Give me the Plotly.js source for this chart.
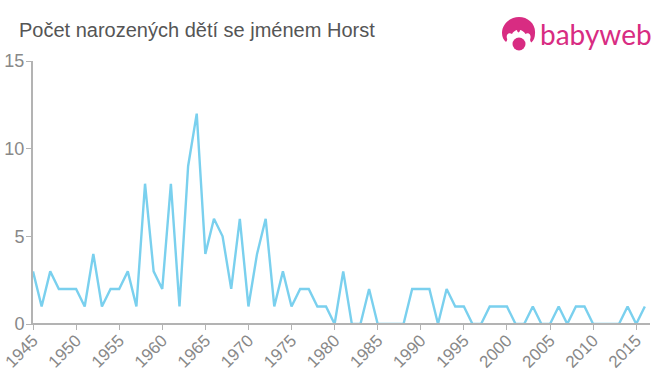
<!DOCTYPE html>
<html><head><meta charset="utf-8">
<script src="https://cdn.plot.ly/plotly-3.0.1.min.js"></script>
<style>html,body{margin:0;padding:0;background:#fff}#c{width:660px;height:375px}</style></head>
<body><div id="c"></div>
<script>
const years = [];
for (let y = 1945; y <= 2016; y++) years.push(y);
const births = [3,1,3,2,2,2,1,4,1,2,2,3,1,8,3,2,8,1,9,12,4,6,5,2,6,1,4,6,1,3,1,2,2,1,1,0,3,0,0,2,0,0,0,0,2,2,2,0,2,1,1,0,0,1,1,1,0,0,1,0,0,1,0,1,1,0,0,0,0,1,0,1];
const xTicks = [1945,1950,1955,1960,1965,1970,1975,1980,1985,1990,1995,2000,2005,2010,2015];
const yTicks = [0,5,10,15];
const titleText = 'Počet narozených dětí se jménem Horst';
const brandText = 'babyweb';
const lineColor = '#7ad0ee', axisColor = '#b3b3b3', tickColor = '#888888', brandColor = '#d82c82';

const logo = 'data:image/svg+xml;utf8,' + encodeURIComponent(
 '<svg xmlns="http://www.w3.org/2000/svg" width="34" height="34" viewBox="0 0 34 34">' +
 '<path fill="'+brandColor+'" d="M17 0C8 0 0 7 0 16c0 4 1.500 7 4 9 1-1 1.500-2 1-3.500-.5-1.500-.5-4 1.500-5 1.500-.7 2.500-.2 3.500.5 1-2 3-3.500 5-4 0 1 .5 2 1.500 2.500 1-.5 1.500-1.500 1.500-2.500 2.500.5 4 2 5.500 4 1-.7 2.500-1 3.500-.2 1.800 1 1.800 3.500 1.300 5-.5 1.500 0 2.700 1 3.700 2.500-2 3.700-5 3.700-9C34 7 26 0 17 0z"/>' +
 '<circle fill="'+brandColor+'" cx="17" cy="27" r="6.500"/></svg>');

Plotly.newPlot('c', [{
  x: years, y: births, type: 'scatter', mode: 'lines',
  line: {color: lineColor, width: 2.4, shape: 'linear'}, hoverinfo: 'x+y'
}], {
  width: 660, height: 375, showlegend: false,
  paper_bgcolor: '#fff', plot_bgcolor: '#fff',
  margin: {l: 33, r: 10, t: 61, b: 51, pad: 0},
  font: {family: '"Liberation Sans", Arial, sans-serif'},
  title: {text: titleText, x: 19/660, xanchor: 'left', y: 1 - 30/375, yanchor: 'middle', yref: 'container',
          font: {size: 20, color: '#555555', family: '"Liberation Sans", Arial, sans-serif'}},
  xaxis: {range: [1945, 2016.6], tickmode: 'array', tickvals: xTicks, ticktext: xTicks.map(String),
          tickangle: -45, ticks: 'outside', ticklen: 5, tickwidth: 1, tickcolor: axisColor,
          ticklabelstandoff: -6, ticklabeloverflow: 'allow',
          showline: true, linecolor: axisColor, linewidth: 1, showgrid: false, zeroline: false,
          tickfont: {size: 17, color: tickColor}, automargin: false},
  yaxis: {range: [0, 15], tickmode: 'array', tickvals: yTicks, ticktext: yTicks.map(String),
          ticks: 'outside', ticklen: 5, tickwidth: 1, tickcolor: axisColor,
          ticklabelstandoff: -2, ticklabeloverflow: 'allow',
          showline: true, linecolor: axisColor, linewidth: 2, showgrid: false, zeroline: false,
          tickfont: {size: 18, color: tickColor}, automargin: false},
  shapes: [{type: 'line', layer: 'above', xref: 'paper', yref: 'y', x0: 0, x1: 1, y0: 0, y1: 0,
            line: {color: axisColor, width: 2}}],
  images: [{source: logo, xref: 'paper', yref: 'paper', xanchor: 'left', yanchor: 'top', sizing: 'stretch',
            x: (502-33)/617, y: 1 + (61-17)/263, sizex: 34/617, sizey: 34/263}],
  annotations: [{text: brandText, xref: 'paper', yref: 'paper', xanchor: 'left', yanchor: 'middle', showarrow: false,
            x: (538-33)/617, y: 1 + (61-34)/263, xshift: 0,
            font: {size: 28, color: brandColor, family: 'Lato, "Open Sans", sans-serif'}}]
}, {displayModeBar: false});
</script></body></html>
